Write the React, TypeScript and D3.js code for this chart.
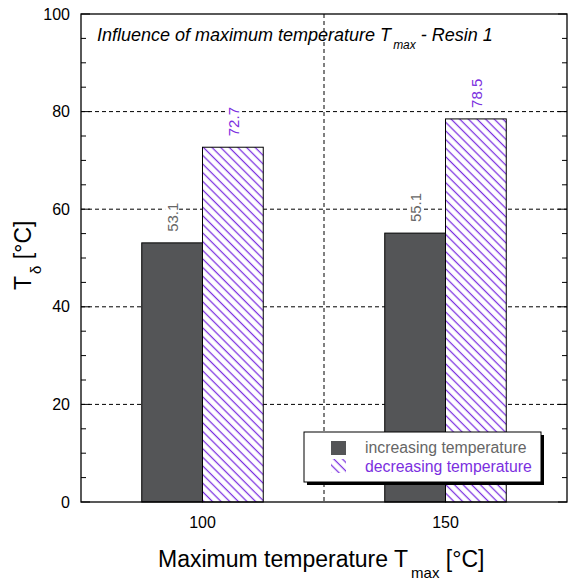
import React from "react";
import * as d3 from "d3";

const categories = ["100", "150"];
const seriesNames = ["increasing temperature", "decreasing temperature"];
const increasing = [53.1, 55.1];
const decreasing = [72.7, 78.5];
const yTicks = [0, 20, 40, 60, 80, 100];
const yMinorTicks = d3.range(0, 101, 5);

const W = 568;
const H = 583;
const M = { left: 81, right: 567, top: 14, bottom: 502 };
const DARK = "#545557";
const PURPLE = "#7b2fe0";
const FONT = "Liberation Sans, Arial, sans-serif";
const LABEL_SIZE = 15;

export default function App() {
  const x = d3.scaleBand<string>().domain(categories).range([M.left, M.right]);
  const y = d3.scaleLinear().domain([0, 100]).range([M.bottom, M.top]);
  const barW = x.bandwidth() * 0.25;
  const midX = (M.left + M.right) / 2;

  const series = [
    { name: seriesNames[0], values: increasing, fill: DARK, label: "#666", off: -1 },
    { name: seriesNames[1], values: decreasing, fill: "url(#hatch)", label: PURPLE, off: 0 },
  ];

  return (
    <svg width={W} height={H} style={{ position: "absolute", left: 0, top: 0 }} fontFamily={FONT}>
      <defs>
        <pattern id="hatch" patternUnits="userSpaceOnUse" width={6.1} height={6.1} patternTransform="rotate(-45)">
          <rect width={6.1} height={6.1} fill="#fff" />
          <line x1={3} y1={0} x2={3} y2={6.1} stroke={PURPLE} strokeWidth={1.25} />
        </pattern>
      </defs>
      <rect width={W} height={H} fill="#fff" />

      {/* grid */}
      {yTicks.filter((t) => t > 0 && t < 100).map((t) => (
        <line key={"g" + t} x1={M.left} x2={M.right} y1={y(t)} y2={y(t)} stroke="#000" strokeWidth={1} strokeDasharray="4,3" />
      ))}
      <line x1={midX} x2={midX} y1={M.top} y2={M.bottom} stroke="#000" strokeDasharray="4,3" />

      {/* bars with rotated value labels on a white backing */}
      {series.map((s) =>
        categories.map((c, i) => {
          const cx = (x(c) as number) + x.bandwidth() / 2;
          const bx = cx + s.off * barW;
          const by = y(s.values[i]);
          const txt = s.values[i].toFixed(1);
          const tx = bx + barW / 2 + 6;
          const ty = by - 11;
          const len = LABEL_SIZE * 0.556 * (txt.length - 1) + LABEL_SIZE * 0.278;
          return (
            <g key={s.name + c}>
              <rect x={bx} y={by} width={barW} height={M.bottom - by} fill={s.fill} stroke="#000" strokeWidth={1} />
              <rect x={tx - 13} y={ty - len - 3} width={14} height={len + 6} fill="#fff" />
              <text transform={`translate(${tx},${ty}) rotate(-90)`} fontSize={LABEL_SIZE} fill={s.label}>
                {txt}
              </text>
            </g>
          );
        })
      )}

      {/* frame */}
      <rect x={M.left} y={M.top} width={M.right - M.left} height={M.bottom - M.top} fill="none" stroke="#000" strokeWidth={1.3} />

      {/* ticks */}
      {yMinorTicks.map((t) => {
        const major = t % 20 === 0;
        const len = major ? 9 : 5;
        return (
          <g key={"t" + t}>
            <line x1={M.left} x2={M.left + len} y1={y(t)} y2={y(t)} stroke="#000" />
            <line x1={M.right} x2={M.right - len} y1={y(t)} y2={y(t)} stroke="#000" />
          </g>
        );
      })}
      {yTicks.map((t) => (
        <text key={"yl" + t} x={70} y={y(t) + 5.5} textAnchor="end" fontSize={16}>
          {t}
        </text>
      ))}
      {categories.map((c) => (
        <text key={"xl" + c} x={(x(c) as number) + x.bandwidth() / 2} y={528} textAnchor="middle" fontSize={16}>
          {c}
        </text>
      ))}

      {/* title */}
      <text x={97} y={41} fontSize={18} fontStyle="italic">
        Influence of maximum temperature T
        <tspan dx={2} dy={8} fontSize={12}>max</tspan>
        <tspan dy={-8}> - Resin 1</tspan>
      </text>

      {/* axis titles */}
      <text x={158} y={567} fontSize={23}>
        Maximum temperature T
        <tspan dx={3} dy={11} fontSize={15}>max</tspan>
        <tspan dy={-11}> [°C]</tspan>
      </text>
      <text transform="translate(31,290) rotate(-90)" fontSize={23}>
        T
        <tspan dx={2} dy={10} fontSize={15}>δ</tspan>
        <tspan dy={-10}> [°C]</tspan>
      </text>

      {/* legend */}
      <g>
        <rect x={307} y={435} width={237} height={50} fill="#000" />
        <rect x={304} y={432} width={237} height={50} fill="#fff" stroke="#000" strokeWidth={1} />
        <rect x={331} y={441} width={15} height={14} fill={DARK} />
        <text x={365} y={453} fontSize={15.8} fill="#666">{seriesNames[0]}</text>
        <rect x={331} y={459} width={15} height={14} fill="url(#hatch)" />
        <text x={365} y={472} fontSize={15.8} fill={PURPLE}>{seriesNames[1]}</text>
      </g>
    </svg>
  );
}
